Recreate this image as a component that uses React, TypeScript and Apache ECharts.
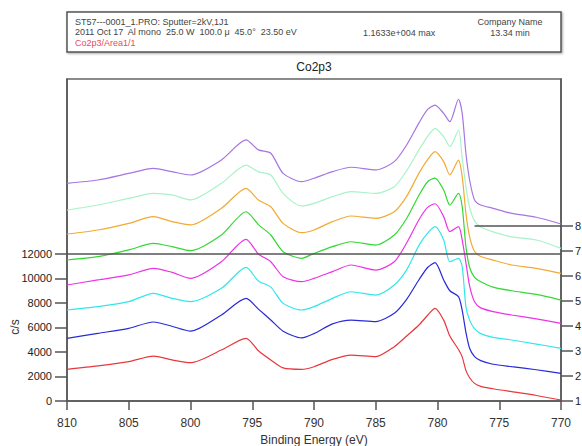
import React, { useEffect, useRef } from "react";
import * as echarts from "echarts";

const energies = [810, 807.5, 805, 803, 801.5, 800, 797.5, 795.5, 794.5, 793.5, 792.5, 791, 790, 788.5, 787, 785, 783.5, 782.5, 781.5, 780.8, 780.2, 779.5, 779, 778.3, 778, 777.7, 777.4, 777, 776.5, 775.5, 774, 772, 770];

const scan1 = [2580, 2860, 3210, 3670, 3350, 3130, 4160, 5120, 4100, 3350, 2700, 2580, 2800, 3400, 3750, 3620, 4430, 5300, 6200, 7000, 7560, 6600, 5300, 4200, 3600, 2500, 1900, 1440, 1200, 1000, 760, 450, 80];
const scan2 = [5110, 5520, 5930, 6450, 6100, 5700, 7020, 8380, 7500, 6610, 5700, 5150, 5500, 6300, 6610, 6480, 7160, 8300, 9900, 10900, 11300, 9880, 9000, 8520, 7400, 5600, 4300, 3620, 3300, 3000, 2800, 2550, 2260];
const scan3 = [7430, 7700, 8110, 8790, 8380, 8110, 9200, 10900, 9800, 9300, 7970, 7430, 7700, 8380, 8920, 8650, 9470, 10700, 12700, 13700, 14230, 13140, 11370, 11650, 10960, 7700, 6600, 5900, 5500, 5200, 4980, 4650, 4300];
const scan4 = [9470, 9880, 10290, 10830, 10500, 10010, 11370, 13200, 12000, 11370, 10150, 9740, 10010, 10560, 11100, 10690, 11370, 12900, 14800, 15800, 16100, 15050, 13820, 14230, 13140, 11300, 9400, 8100, 7600, 7300, 7020, 6700, 6340];
const scan5 = [11510, 11780, 12330, 12870, 12600, 12270, 13550, 15450, 14400, 13550, 12190, 11650, 12050, 12600, 13000, 12730, 13550, 14900, 16800, 17900, 18200, 17220, 16000, 16950, 15860, 12600, 10900, 10100, 9740, 9300, 9000, 8700, 8240];
const scan6 = [13630, 13960, 14500, 15050, 14640, 14370, 15730, 17360, 16400, 15860, 14500, 13740, 13960, 14640, 15100, 14910, 15450, 16700, 18600, 19700, 20350, 19540, 18450, 19670, 18310, 15320, 13410, 12200, 11800, 11500, 11100, 10830, 10420];
const scan7 = [15590, 16000, 16540, 16950, 16820, 16410, 17770, 19260, 18700, 18450, 16950, 15920, 16130, 16680, 17090, 16950, 17490, 18800, 20500, 21600, 22260, 21580, 20760, 22120, 19800, 17500, 15800, 14700, 14200, 13800, 13400, 13140, 12460];
const scan8 = [17770, 18040, 18580, 18990, 18720, 18450, 19670, 21310, 20500, 20220, 18580, 17900, 18180, 18720, 19080, 18860, 19540, 20900, 22700, 23800, 24160, 23480, 22800, 24630, 23480, 20220, 18040, 16410, 16000, 15730, 15320, 15000, 14450];

const scans = [scan1, scan2, scan3, scan4, scan5, scan6, scan7, scan8];
const scanNames = ["1", "2", "3", "4", "5", "6", "7", "8"];
const scanColors = ["#e8383d", "#2a2ad8", "#33e6ea", "#ec34e6", "#34d834", "#f2aa33", "#aaf2c8", "#a676e2"];

const leftTicks = [0, 2000, 4000, 6000, 8000, 10000, 12000];
const rightTicks = [1, 2, 3, 4, 5, 6, 7, 8];
const refCount = 12000;
const scan8Marker = [777, 770];

const FONT = "Liberation Sans, Arial, sans-serif";

export default function App() {
  const ref = useRef<HTMLDivElement>(null);
  useEffect(() => {
    if (!ref.current) return;
    const chart = echarts.init(ref.current, null, { renderer: "svg" });
    const axisColor = "#555";
    const series: any[] = scans.map((vals, i) => ({
      name: scanNames[i],
      type: "line",
      yAxisIndex: 0,
      data: energies.map((e, j) => [e, vals[j]]),
      showSymbol: false,
      smooth: 0.25,
      lineStyle: { color: scanColors[i], width: 1.2 },
      itemStyle: { color: scanColors[i] },
      z: 3,
      ...(i === 0
        ? {
            markLine: {
              silent: true,
              symbol: ["none", "none"],
              label: { show: false },
              lineStyle: { color: axisColor, width: 1.5, type: "solid" },
              data: [{ yAxis: refCount }],
            },
          }
        : {}),
    }));
    series.push({
      type: "line",
      yAxisIndex: 1,
      data: [[scan8Marker[1], rightTicks[7]]],
      showSymbol: false,
      lineStyle: { opacity: 0 },
      markLine: {
        silent: true,
        symbol: ["none", "none"],
        label: { show: false },
        lineStyle: { color: axisColor, width: 1.5, type: "solid" },
        data: [[{ coord: [scan8Marker[0], rightTicks[7]] }, { coord: [scan8Marker[1], rightTicks[7]] }]],
      },
    });

    chart.setOption({
      animation: false,
      textStyle: { fontFamily: FONT },
      grid: { left: 67, right: 21, top: 79, bottom: 45, show: true, borderColor: "#666", borderWidth: 1.5, containLabel: false, outerBoundsMode: "none" },
      xAxis: {
        type: "value",
        min: 770,
        max: 810,
        interval: 5,
        inverse: true,
        axisLine: { show: true, lineStyle: { color: axisColor, width: 1.5 } },
        axisTick: { show: true, length: 9, lineStyle: { color: axisColor, width: 1.5 } },
        axisLabel: { margin: 16, fontSize: 12, color: "#333", fontFamily: FONT },
        splitLine: { show: false },
        name: "Binding Energy (eV)",
        nameLocation: "middle",
        nameGap: 31,
        nameTextStyle: { fontSize: 12, color: "#333", fontFamily: FONT },
      },
      yAxis: [
        {
          type: "value",
          min: 0,
          max: 26285,
          position: "left",
          axisLine: { show: true, lineStyle: { color: axisColor, width: 1.5 } },
          axisTick: { show: true, length: 12, customValues: leftTicks, lineStyle: { color: axisColor, width: 1.5 } },
          axisLabel: { customValues: leftTicks, formatter: (v: number) => String(v), margin: 15, fontSize: 11, color: "#222", fontFamily: FONT },
          splitLine: { show: false },
        },
        {
          type: "value",
          min: 1,
          max: 13.88,
          position: "right",
          axisLine: { show: true, lineStyle: { color: axisColor, width: 1.5 } },
          axisTick: { show: true, length: 12, customValues: rightTicks, lineStyle: { color: axisColor, width: 1.5 } },
          axisLabel: { customValues: rightTicks, margin: 14, fontSize: 11, color: "#222", fontFamily: FONT },
          splitLine: { show: false },
        },
      ],
      series,
      graphic: [
        {
          type: "rect",
          shape: { x: 67, y: 12, width: 494, height: 40 },
          style: { fill: "#fff", stroke: "#555", lineWidth: 1.5, shadowBlur: 2, shadowOffsetX: 1, shadowOffsetY: 1, shadowColor: "rgba(0,0,0,0.35)" },
        },
        { type: "text", x: 75, y: 22, style: { text: "ST57---0001_1.PRO: Sputter=2kV,1J1", fontSize: 9, fill: "#444", verticalAlign: "middle", fontFamily: FONT } },
        { type: "text", x: 75, y: 32, style: { text: "2011 Oct 17  Al mono  25.0 W  100.0 μ  45.0°  23.50 eV", fontSize: 9, fill: "#444", verticalAlign: "middle", fontFamily: FONT } },
        { type: "text", x: 75, y: 43, style: { text: "Co2p3/Area1/1", fontSize: 9, fill: "#f04a58", verticalAlign: "middle", fontFamily: FONT } },
        { type: "text", x: 363, y: 33, style: { text: "1.1633e+004 max", fontSize: 9, fill: "#444", verticalAlign: "middle", fontFamily: FONT } },
        { type: "text", x: 510, y: 22, style: { text: "Company Name", fontSize: 9, fill: "#444", align: "center", verticalAlign: "middle", fontFamily: FONT } },
        { type: "text", x: 510, y: 33, style: { text: "13.34 min", fontSize: 9, fill: "#444", align: "center", verticalAlign: "middle", fontFamily: FONT } },
        { type: "text", x: 314, y: 67, style: { text: "Co2p3", fontSize: 12, fill: "#222", align: "center", verticalAlign: "middle", fontFamily: FONT } },
        { type: "text", x: 15, y: 327, rotation: Math.PI / 2, style: { text: "c/s", fontSize: 12, fill: "#333", align: "center", verticalAlign: "middle", fontFamily: FONT } },
      ],
    });
    return () => chart.dispose();
  }, []);
  return <div ref={ref} style={{ width: 582, height: 446, position: "absolute", left: 0, top: 0 }} />;
}
